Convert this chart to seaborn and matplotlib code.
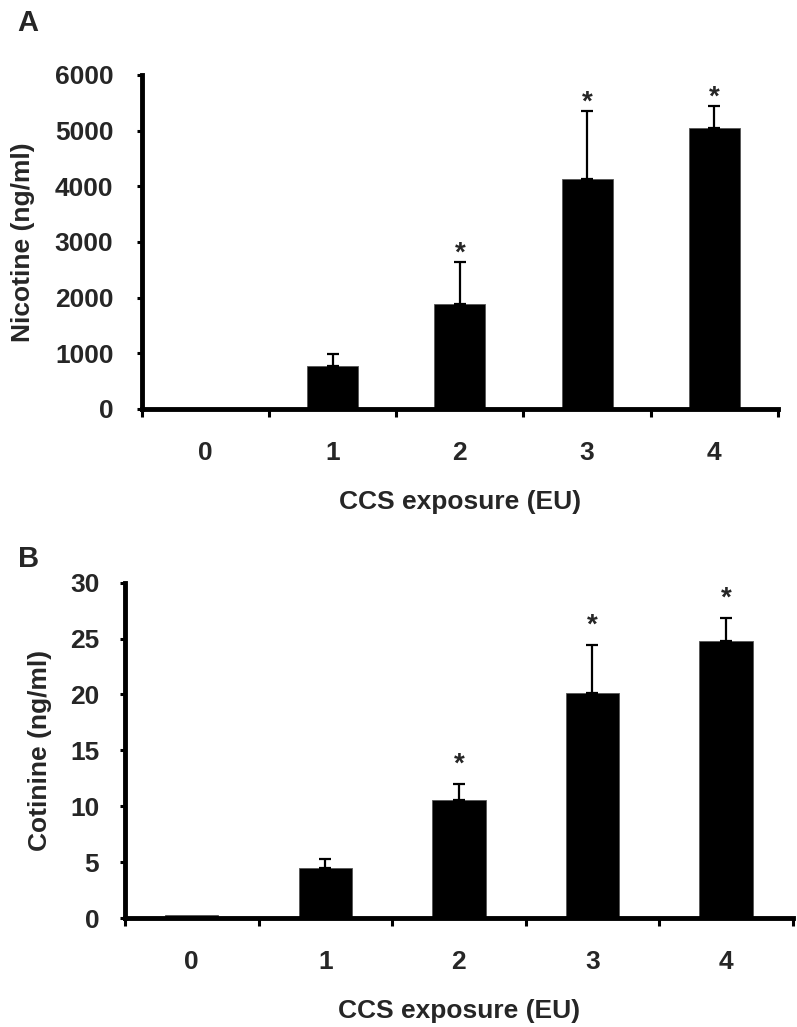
#!/usr/bin/env python3
"""Nicotine / cotinine levels vs CCS exposure, two stacked bar panels."""

import numpy as np
import pandas as pd
import matplotlib
matplotlib.use("Agg")
import matplotlib.pyplot as plt
import seaborn as sns

# exposure groups (EU)
exposure = ["0", "1", "2", "3", "4"]

# panel A: plasma nicotine (ng/ml), mean and upper SE
nicotine_mean = [0, 770, 1880, 4130, 5050]
nicotine_err = [0, 215, 760, 1230, 395]
nicotine_sig = [False, False, True, True, True]

# panel B: plasma cotinine (ng/ml)
cotinine_mean = [0.25, 4.45, 10.55, 20.1, 24.8]
cotinine_err = [0, 0.85, 1.45, 4.3, 2.0]
cotinine_sig = [False, False, True, True, True]

sns.set_style("ticks")
plt.rcParams["font.family"] = ["Liberation Sans", "DejaVu Sans"]
plt.rcParams["font.weight"] = "bold"
plt.rcParams["axes.labelweight"] = "bold"

LW_SPINE = 3.5
FS = 19


def draw_panel(ax, means, errs, sig, ylabel, ymax, ystep, ypad, ylabelpad, star_off):
    df = pd.DataFrame({"exposure": exposure, "value": means})
    sns.barplot(data=df, x="exposure", y="value", order=exposure, color="black",
                saturation=1, width=0.4, errorbar=None, ax=ax, edgecolor="#555555",
                linewidth=0.6)

    # upper-only error bars, skip empty ones
    idx = np.array([i for i, e in enumerate(errs) if e > 0])
    m = np.array(means)[idx]
    e = np.array(errs)[idx]
    ax.errorbar(idx, m, yerr=[np.zeros(len(idx)), e], fmt="none", ecolor="black",
                elinewidth=1.6, capsize=4, capthick=1.6, zorder=3)

    # significance stars
    for i, flag in enumerate(sig):
        if flag:
            ax.annotate("*", xy=(i, means[i] + errs[i]), xytext=(0, star_off),
                        textcoords="offset points", ha="center", va="baseline",
                        fontsize=20, fontweight="bold")

    ax.set_xlim(-0.5, len(exposure) - 0.5)
    ax.set_ylim(0, ymax)
    ax.set_yticks(np.arange(0, ymax + 0.1, ystep))
    ax.set_xticks(range(len(exposure)))
    ax.set_xticklabels(exposure)
    ax.set_xticks(np.arange(-0.5, len(exposure), 1), minor=True)

    sns.despine(ax=ax)
    for side in ("left", "bottom"):
        ax.spines[side].set_linewidth(LW_SPINE)
        ax.spines[side].set_color("black")

    ax.tick_params(axis="x", which="major", length=0, pad=23, labelsize=FS)
    ax.tick_params(axis="x", which="minor", length=6, width=2.2, direction="out",
                   color="black")
    ax.tick_params(axis="y", which="major", length=3.5, width=2.2, direction="out",
                   pad=ypad, labelsize=FS, color="black")
    for lab in ax.get_xticklabels() + ax.get_yticklabels():
        lab.set_fontweight("bold")

    ax.set_xlabel("CCS exposure (EU)", fontsize=FS, labelpad=18)
    ax.set_ylabel(ylabel, fontsize=FS, labelpad=ylabelpad)


fig = plt.figure(figsize=(7.97, 10.27), dpi=100)
axA = fig.add_axes([0.178, 0.6018, 0.798, 0.3252])
axB = fig.add_axes([0.1568, 0.1061, 0.838, 0.3265])

draw_panel(axA, nicotine_mean, nicotine_err, nicotine_sig, "Nicotine (ng/ml)",
           6000, 1000, 17, 14, 1)
draw_panel(axB, cotinine_mean, cotinine_err, cotinine_sig, "Cotinine (ng/ml)",
           30, 5, 15, 13, 9)

fig.text(17 / 797, 1 - 31 / 1027, "A", ha="left", va="baseline", fontsize=21,
         fontweight="bold")
fig.text(18 / 797, 1 - 567 / 1027, "B", ha="left", va="baseline", fontsize=21,
         fontweight="bold")

fig.savefig("out.png", dpi=100)
